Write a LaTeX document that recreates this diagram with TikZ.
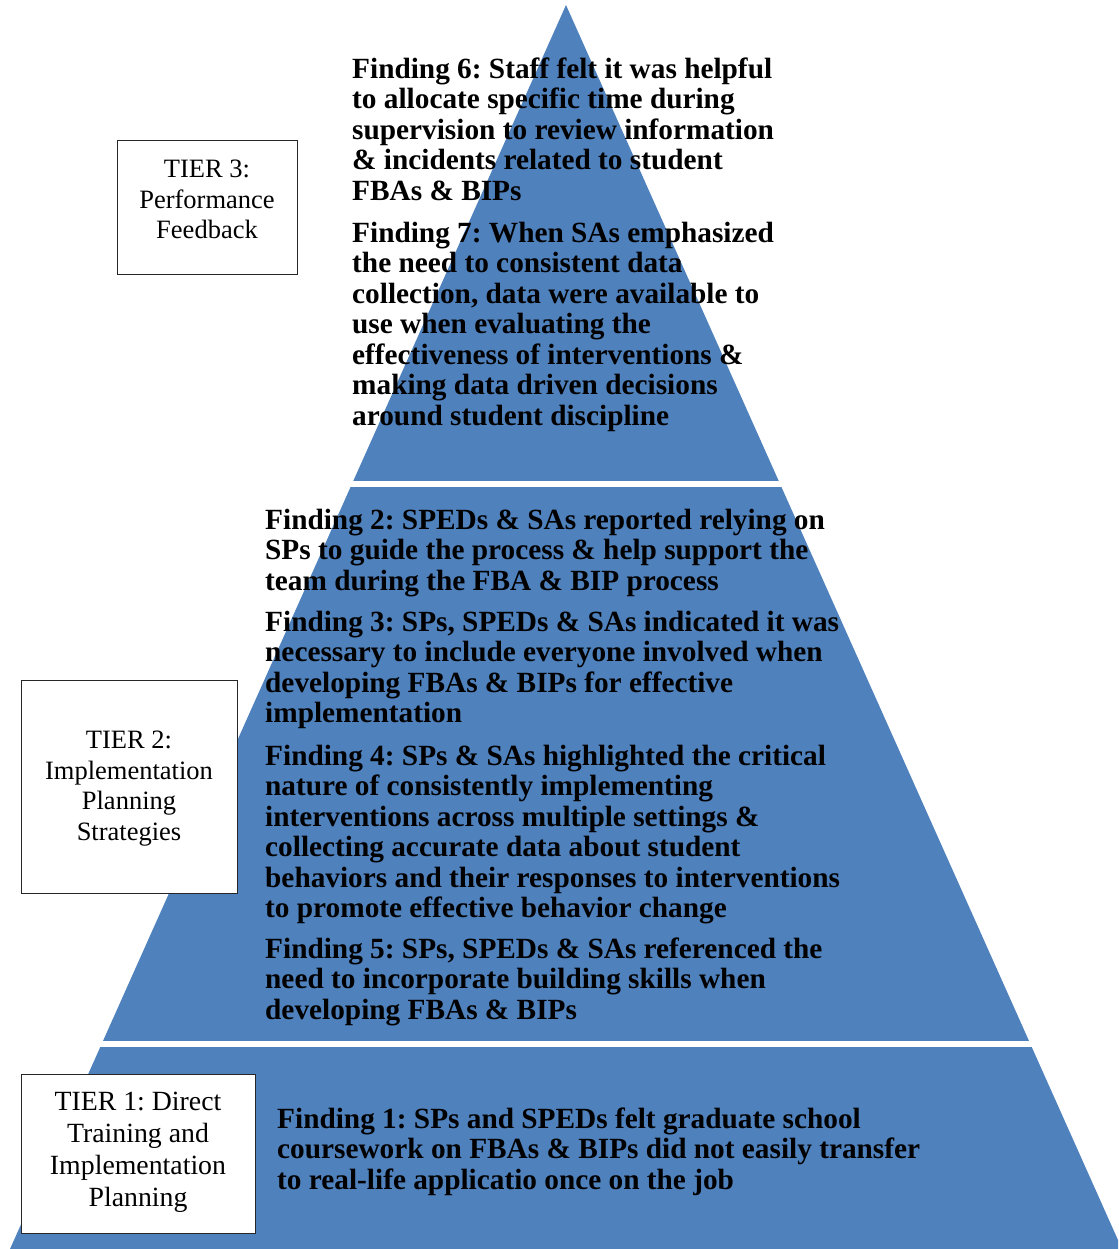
\documentclass[tikz,border=0pt]{standalone}
\usepackage{fontspec}
\setmainfont{Liberation Serif}
\frenchspacing
\definecolor{pyrblue}{HTML}{4F81BD}
\begin{document}
\begin{tikzpicture}[x=1pt,y=-1pt,
  tierbox/.style={draw=black!85, line width=1.3pt, fill=white, inner sep=0pt, anchor=north west},
  tiertext/.style={align=center, font=\fontsize{26.5}{30.5}\selectfont, inner sep=0pt},
  finding/.style={align=left, anchor=north west, inner sep=0pt, font=\bfseries\fontsize{29.3}{30.5}\selectfont}]
\useasboundingbox (0,0) rectangle (1118,1249);
\begin{scope}
\clip (0,0) rectangle (1118,1249);
\fill[pyrblue] (566,5) -- (1122,1249) -- (10,1249) -- cycle;
\end{scope}
\fill[white] (0,481) rectangle (1118,487);
\fill[white] (0,1041) rectangle (1118,1047);

% tier boxes
\node[tierbox, minimum width=180pt, minimum height=134pt] (box3) at (117,140) {};
\node[tiertext] (t3) at (207,199.5) {TIER 3:\\Performance\\Feedback};
\node[tierbox, minimum width=216pt, minimum height=213pt] (box2) at (21,680) {};
\node[tiertext] (t2) at (129,788.5) {TIER 2:\\Implementation\\Planning\\Strategies};
\node[tierbox, minimum width=234pt, minimum height=159pt] (box1) at (21,1074) {};
\node[tiertext, font=\fontsize{27.8}{32}\selectfont] (t1) at (138,1152) {TIER 1: Direct\\Training and\\Implementation\\Planning};

% findings
\node[finding] (f6) at (352,57.5) {Finding 6: Staff felt it was helpful\\to allocate specific time during\\supervision to review information\\\& incidents related to student\\FBAs \& BIPs};
\node[finding] (f7) at (352,221.5) {Finding 7: When SAs emphasized\\the need to consistent data\\collection, data were available to\\use when evaluating the\\effectiveness of interventions \&\\making data driven decisions\\around student discipline};
\node[finding] (f2) at (265,508.5) {Finding 2: SPEDs \& SAs reported relying on\\SPs to guide the process \& help support the\\team during the FBA \& BIP process};
\node[finding] (f3) at (265,610.5) {Finding 3: SPs, SPEDs \& SAs indicated it was\\necessary to include everyone involved when\\developing FBAs \& BIPs for effective\\implementation};
\node[finding] (f4) at (265,744.5) {Finding 4: SPs \& SAs highlighted the critical\\nature of consistently implementing\\interventions across multiple settings \&\\collecting accurate data about student\\behaviors and their responses to interventions\\to promote effective behavior change};
\node[finding] (f5) at (265,937.5) {Finding 5: SPs, SPEDs \& SAs referenced the\\need to incorporate building skills when\\developing FBAs \& BIPs};
\node[finding] (f1) at (277,1107.5) {Finding 1: SPs and SPEDs felt graduate school\\coursework on FBAs \& BIPs did not easily transfer\\to real-life applicatio once on the job};
\end{tikzpicture}
\end{document}
